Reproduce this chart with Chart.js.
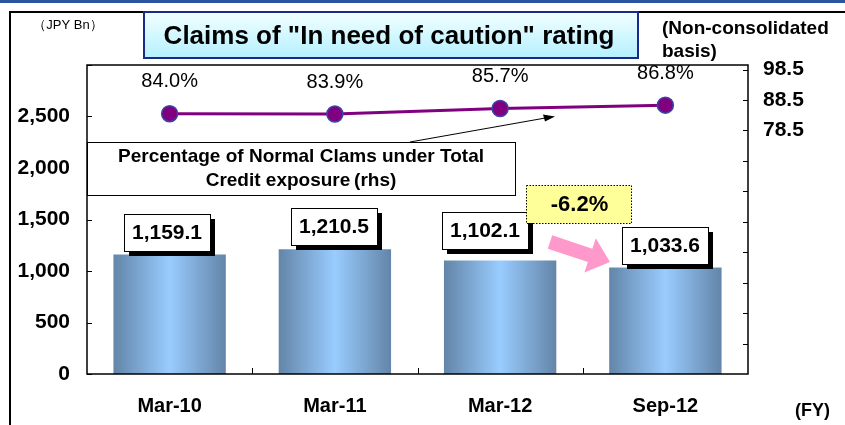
<!DOCTYPE html>
<html>
<head>
<meta charset="utf-8">
<script src="https://cdn.jsdelivr.net/npm/chart.js@4"></script>
<style>
  body { margin: 0; background: #fff; }
  #wrap { width: 845px; height: 425px; }
</style>
</head>
<body>
<div id="wrap"><canvas id="chart" width="845" height="425"></canvas></div>
<script>
var categories = ['Mar-10', 'Mar-11', 'Mar-12', 'Sep-12'];
var claims = [1159.1, 1210.5, 1102.1, 1033.6];
var normalPct = [84.0, 83.9, 85.7, 86.8];
var leftTicks = [0, 500, 1000, 1500, 2000, 2500, 3000];
var rightTicks = [98.5, 88.5, 78.5, 68.5, 58.5, 48.5, 38.5, 28.5, 18.5, 8.5];
var rightLabelled = [98.5, 88.5, 78.5];
var changeText = '-6.2%';

var FONT = '"Liberation Sans", Arial, sans-serif';
var barPct = 0.68;

function fmt(v) {
    return v.toLocaleString('en-US', { minimumFractionDigits: 1, maximumFractionDigits: 1 });
}

function barGradient(ctx) {
    var chart = ctx.chart;
    var area = chart.chartArea;
    if (!area) return '#80aadd';
    var x = chart.scales.x.getPixelForValue(ctx.dataIndex);
    var w = (area.right - area.left) / categories.length * barPct;
    var g = chart.ctx.createLinearGradient(x - w / 2, 0, x + w / 2, 0);
    g.addColorStop(0, '#6385a8');
    g.addColorStop(0.5, '#99ccff');
    g.addColorStop(1, '#6385a8');
    return g;
}

function box(c, x, y, w, h, shadow) {
    if (shadow) {
        c.fillStyle = '#000';
        c.fillRect(x + 5, y + 5, w, h);
    }
    c.fillStyle = '#fff';
    c.fillRect(x, y, w, h);
    c.strokeStyle = '#000';
    c.lineWidth = 1;
    c.strokeRect(x + 0.5, y + 0.5, w, h);
}

var decor = {
    id: 'decor',
    beforeDraw: function(chart) {
        var c = chart.ctx;
        c.save();
        c.fillStyle = '#fff';
        c.fillRect(0, 0, chart.width, chart.height);
        // top rule + frame
        c.fillStyle = '#2b55a0';
        c.fillRect(0, 0, chart.width, 3);
        c.strokeStyle = '#000';
        c.lineWidth = 2;
        c.beginPath();
        c.moveTo(10, chart.height);
        c.lineTo(10, 12);
        c.lineTo(chart.width, 12);
        c.stroke();
        c.restore();
    },
    afterDatasetsDraw: function(chart) {
        var c = chart.ctx;
        var area = chart.chartArea;
        var xs = chart.scales.x, ys = chart.scales.y, y2 = chart.scales.y2;
        c.save();

        // plot border
        c.strokeStyle = '#000';
        c.lineWidth = 1.5;
        c.strokeRect(area.left, area.top, area.right - area.left, area.bottom - area.top);

        // inner tick marks
        c.lineWidth = 1;
        c.beginPath();
        leftTicks.forEach(function(v) {
            var y = Math.round(ys.getPixelForValue(v)) + 0.5;
            c.moveTo(area.left, y); c.lineTo(area.left + 5, y);
        });
        rightTicks.forEach(function(v) {
            var y = Math.round(y2.getPixelForValue(v)) + 0.5;
            c.moveTo(area.right - 5, y); c.lineTo(area.right, y);
        });
        var step = (area.right - area.left) / categories.length;
        for (var k = 1; k < categories.length; k++) {
            var x = Math.round(area.left + step * k) + 0.5;
            c.moveTo(x, area.bottom); c.lineTo(x, area.bottom - 6);
        }
        c.stroke();

        // line value labels
        c.fillStyle = '#000';
        c.font = '20px ' + FONT;
        c.textAlign = 'center';
        c.textBaseline = 'middle';
        normalPct.forEach(function(v, i) {
            var x = xs.getPixelForValue(i);
            var y = y2.getPixelForValue(v);
            c.fillText(v.toFixed(1) + '%', x, y - 32);
        });

        // bar value boxes
        var shifts = [-3, -1, -15, 0];
        c.font = 'bold 21px ' + FONT;
        claims.forEach(function(v, i) {
            var x = xs.getPixelForValue(i) + shifts[i];
            var top = ys.getPixelForValue(v);
            var w = 86, h = 37;
            var bx = Math.round(x - w / 2), by = Math.round(top - h - 4);
            if (i === 2) by -= 7;
            box(c, bx, by, w, h, true);
            c.fillStyle = '#000';
            c.fillText(fmt(v), bx + w / 2, by + h / 2 + 1);
        });

        // legend box for rhs line
        var lx = area.left, ly = 142, lw = 428, lh = 53;
        box(c, lx, ly, lw, lh, false);
        c.fillStyle = '#000';
        c.font = 'bold 19px ' + FONT;
        c.fillText('Percentage of Normal Clams under Total', lx + lw / 2, ly + 15);
        c.fillText('Credit exposure\u2009(rhs)', lx + lw / 2, ly + 39);

        // pointer arrow
        c.strokeStyle = '#000';
        c.lineWidth = 1;
        c.beginPath();
        c.moveTo(410, 142); c.lineTo(551, 117);
        c.stroke();
        c.beginPath();
        c.moveTo(555, 116.5); c.lineTo(543, 114.5); c.lineTo(545, 121.5); c.closePath();
        c.fill();

        // change box
        var cx = 526, cy = 185, cw = 105, ch = 38;
        c.fillStyle = '#ffff99';
        c.fillRect(cx, cy, cw, ch);
        c.setLineDash([1.5, 1.5]);
        c.strokeStyle = '#000';
        c.strokeRect(cx + 0.5, cy + 0.5, cw, ch);
        c.setLineDash([]);
        c.fillStyle = '#000';
        c.font = 'bold 22px ' + FONT;
        c.fillText(changeText, cx + cw / 2 + 1, cy + ch / 2 + 1);

        // pink block arrow
        var sx = 550, sy = 242, tx = 610, ty = 262;
        var ang = Math.atan2(ty - sy, tx - sx);
        var len = Math.hypot(tx - sx, ty - sy);
        c.translate(sx, sy);
        c.rotate(ang);
        c.fillStyle = '#ff99cc';
        c.beginPath();
        c.moveTo(0, -7); c.lineTo(len - 21, -7); c.lineTo(len - 21, -18);
        c.lineTo(len, 0); c.lineTo(len - 21, 18); c.lineTo(len - 21, 7); c.lineTo(0, 7);
        c.closePath();
        c.fill();
        c.restore();

        // title box + corner notes
        c.save();
        var g = c.createLinearGradient(0, 12, 0, 58);
        g.addColorStop(0, '#f2ffff');
        g.addColorStop(1, '#b4f0ff');
        c.fillStyle = g;
        c.fillRect(144, 12, 494, 46);
        c.strokeStyle = '#1a2a8a';
        c.lineWidth = 2;
        c.strokeRect(144, 12, 494, 46);
        c.fillStyle = '#000';
        c.textAlign = 'center';
        c.textBaseline = 'middle';
        c.font = 'bold 26px ' + FONT;
        c.fillText('Claims of "In need of caution" rating', 389, 37);
        c.font = '13px ' + FONT;
        c.fillText('\uff08JPY Bn\uff09', 68, 25);
        c.textAlign = 'left';
        c.font = 'bold 19px ' + FONT;
        c.fillText('(Non-consolidated', 662, 29);
        c.fillText('basis)', 662, 52);
        c.font = 'bold 18px ' + FONT;
        c.fillText('(FY)', 795, 411);
        c.restore();
    }
};

new Chart(document.getElementById('chart'), {
    data: {
        labels: categories,
        datasets: [
            {
                type: 'line',
                data: normalPct,
                yAxisID: 'y2',
                order: 0,
                borderColor: '#800080',
                borderWidth: 3,
                pointRadius: 8,
                pointBackgroundColor: '#800080',
                pointBorderColor: '#3a45a8',
                pointBorderWidth: 1.5
            },
            {
                type: 'bar',
                data: claims,
                yAxisID: 'y',
                order: 1,
                backgroundColor: barGradient,
                categoryPercentage: 1,
                barPercentage: barPct
            }
        ]
    },
    plugins: [decor],
    options: {
        responsive: false,
        animation: false,
        layout: { padding: { top: 65, left: 0, right: 0, bottom: 0 } },
        plugins: { legend: { display: false }, tooltip: { enabled: false } },
        scales: {
            x: {
                grid: { display: false, drawTicks: false },
                border: { display: false },
                ticks: { color: '#000', font: { family: FONT, size: 20, weight: 'bold' }, padding: 20, maxRotation: 0 },
                afterFit: function(s) { s.height = 51; }
            },
            y: {
                position: 'left',
                min: 0, max: 3000,
                grid: { display: false, drawTicks: false },
                border: { display: false },
                afterBuildTicks: function(s) { s.ticks = leftTicks.map(function(v) { return { value: v }; }); },
                ticks: {
                    color: '#000', font: { family: FONT, size: 21, weight: 'bold' }, padding: 17,
                    callback: function(v) { return v >= 3000 ? '' : v.toLocaleString('en-US'); }
                },
                afterFit: function(s) { s.width = 87; }
            },
            y2: {
                position: 'right',
                min: -1.5, max: 100,
                grid: { display: false, drawTicks: false },
                border: { display: false },
                afterBuildTicks: function(s) { s.ticks = rightTicks.map(function(v) { return { value: v }; }); },
                ticks: {
                    color: '#000', font: { family: FONT, size: 21, weight: 'bold' }, padding: 15,
                    callback: function(v) { return rightLabelled.indexOf(v) >= 0 ? v.toFixed(1) : ''; }
                },
                afterFit: function(s) { s.width = 97; }
            }
        }
    }
});
</script>
</body>
</html>
